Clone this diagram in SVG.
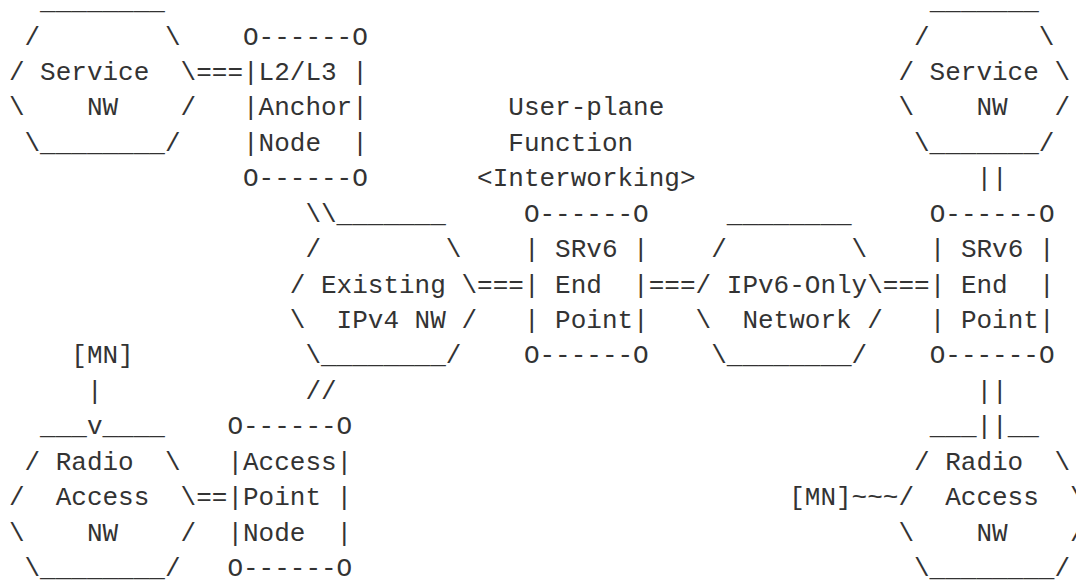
<svg xmlns="http://www.w3.org/2000/svg" width="1076" height="582" viewBox="0 0 1076 582" xml:space="preserve">
  <style>
    text { font-family: "Liberation Mono", "DejaVu Sans Mono", monospace; font-size: 26px; fill: #333333; white-space: pre; }
  </style>
  <rect width="1076" height="582" fill="#ffffff"/>

  <!-- Service network (left) -->
  <g id="service-nw-left">
    <text x="40.1" y="9.1">________</text>
    <text x="24.5" y="44.5">/        \</text>
    <text x="8.9" y="79.9">/ Service  \</text>
    <text x="8.9" y="115.4">\    NW    /</text>
    <text x="24.5" y="150.8">\________/</text>
  </g>

  <!-- L2/L3 anchor node -->
  <g id="anchor-node">
    <text x="243.0" y="44.5">O------O</text>
    <text x="243.0" y="79.9">|L2/L3 |</text>
    <text x="243.0" y="115.4">|Anchor|</text>
    <text x="243.0" y="150.8">|Node  |</text>
    <text x="243.0" y="186.2">O------O</text>
  </g>

  <!-- User-plane function label -->
  <g id="upf-label">
    <text x="508.3" y="115.4">User-plane</text>
    <text x="508.3" y="150.8">Function</text>
    <text x="477.1" y="186.2">&lt;Interworking&gt;</text>
  </g>

  <!-- Service network (right) -->
  <g id="service-nw-right">
    <text x="929.7" y="9.1">_______</text>
    <text x="914.0" y="44.5">/       \</text>
    <text x="898.4" y="79.9">/ Service \</text>
    <text x="898.4" y="115.4">\    NW   /</text>
    <text x="914.0" y="150.8">\_______/</text>
  </g>

  <!-- Existing IPv4 network -->
  <g id="ipv4-nw">
    <text x="336.6" y="221.7">_______</text>
    <text x="305.4" y="257.1">/        \</text>
    <text x="289.8" y="292.5">/ Existing \</text>
    <text x="289.8" y="328.0">\  IPv4 NW /</text>
    <text x="305.4" y="363.4">\________/</text>
  </g>

  <!-- SRv6 end point (middle) -->
  <g id="srv6-end-mid">
    <text x="523.9" y="221.7">O------O</text>
    <text x="523.9" y="257.1">| SRv6 |</text>
    <text x="523.9" y="292.5">| End  |</text>
    <text x="523.9" y="328.0">| Point|</text>
    <text x="523.9" y="363.4">O------O</text>
  </g>

  <!-- IPv6-only network -->
  <g id="ipv6-nw">
    <text x="726.8" y="221.7">________</text>
    <text x="711.2" y="257.1">/        \</text>
    <text x="695.6" y="292.5">/ IPv6-Only\</text>
    <text x="695.6" y="328.0">\  Network /</text>
    <text x="711.2" y="363.4">\________/</text>
  </g>

  <!-- SRv6 end point (right) -->
  <g id="srv6-end-right">
    <text x="929.7" y="221.7">O------O</text>
    <text x="929.7" y="257.1">| SRv6 |</text>
    <text x="929.7" y="292.5">| End  |</text>
    <text x="929.7" y="328.0">| Point|</text>
    <text x="929.7" y="363.4">O------O</text>
  </g>

  <!-- Mobile node (left) -->
  <g id="mn-left">
    <text x="71.3" y="363.4">[MN]</text>
  </g>

  <!-- Radio access network (left) -->
  <g id="ran-left">
    <text x="40.1" y="434.2">___</text>
    <text x="102.5" y="434.2">____</text>
    <text x="24.5" y="469.7">/ Radio  \</text>
    <text x="8.9" y="505.1">/  Access  \</text>
    <text x="8.9" y="540.5">\    NW    /</text>
    <text x="24.5" y="576.0">\________/</text>
  </g>

  <!-- Access point node -->
  <g id="access-point-node">
    <text x="227.4" y="434.2">O------O</text>
    <text x="227.4" y="469.7">|Access|</text>
    <text x="227.4" y="505.1">|Point |</text>
    <text x="227.4" y="540.5">|Node  |</text>
    <text x="227.4" y="576.0">O------O</text>
  </g>

  <!-- Radio access network (right) -->
  <g id="ran-right">
    <text x="929.7" y="434.2">___</text>
    <text x="1007.7" y="434.2">__</text>
    <text x="914.0" y="469.7">/ Radio  \</text>
    <text x="898.4" y="505.1">/  Access  \</text>
    <text x="898.4" y="540.5">\    NW    /</text>
    <text x="914.0" y="576.0">\________/</text>
  </g>

  <!-- Mobile node (right) -->
  <g id="mn-right">
    <text x="789.2" y="505.1">[MN]</text>
  </g>

  <!-- Links between nodes -->
  <g id="connectors">
    <text x="196.2" y="79.9">===</text>
    <text x="976.5" y="186.2">||</text>
    <text x="305.4" y="221.7">\\</text>
    <text x="477.1" y="292.5">===</text>
    <text x="648.7" y="292.5">===</text>
    <text x="882.8" y="292.5">===</text>
    <text x="86.9" y="398.8">|</text>
    <text x="305.4" y="398.8">//</text>
    <text x="976.5" y="398.8">||</text>
    <text x="86.9" y="434.2">v</text>
    <text x="976.5" y="434.2">||</text>
    <text x="196.2" y="505.1">==</text>
    <text x="851.6" y="505.1">~~~</text>
  </g>
</svg>
